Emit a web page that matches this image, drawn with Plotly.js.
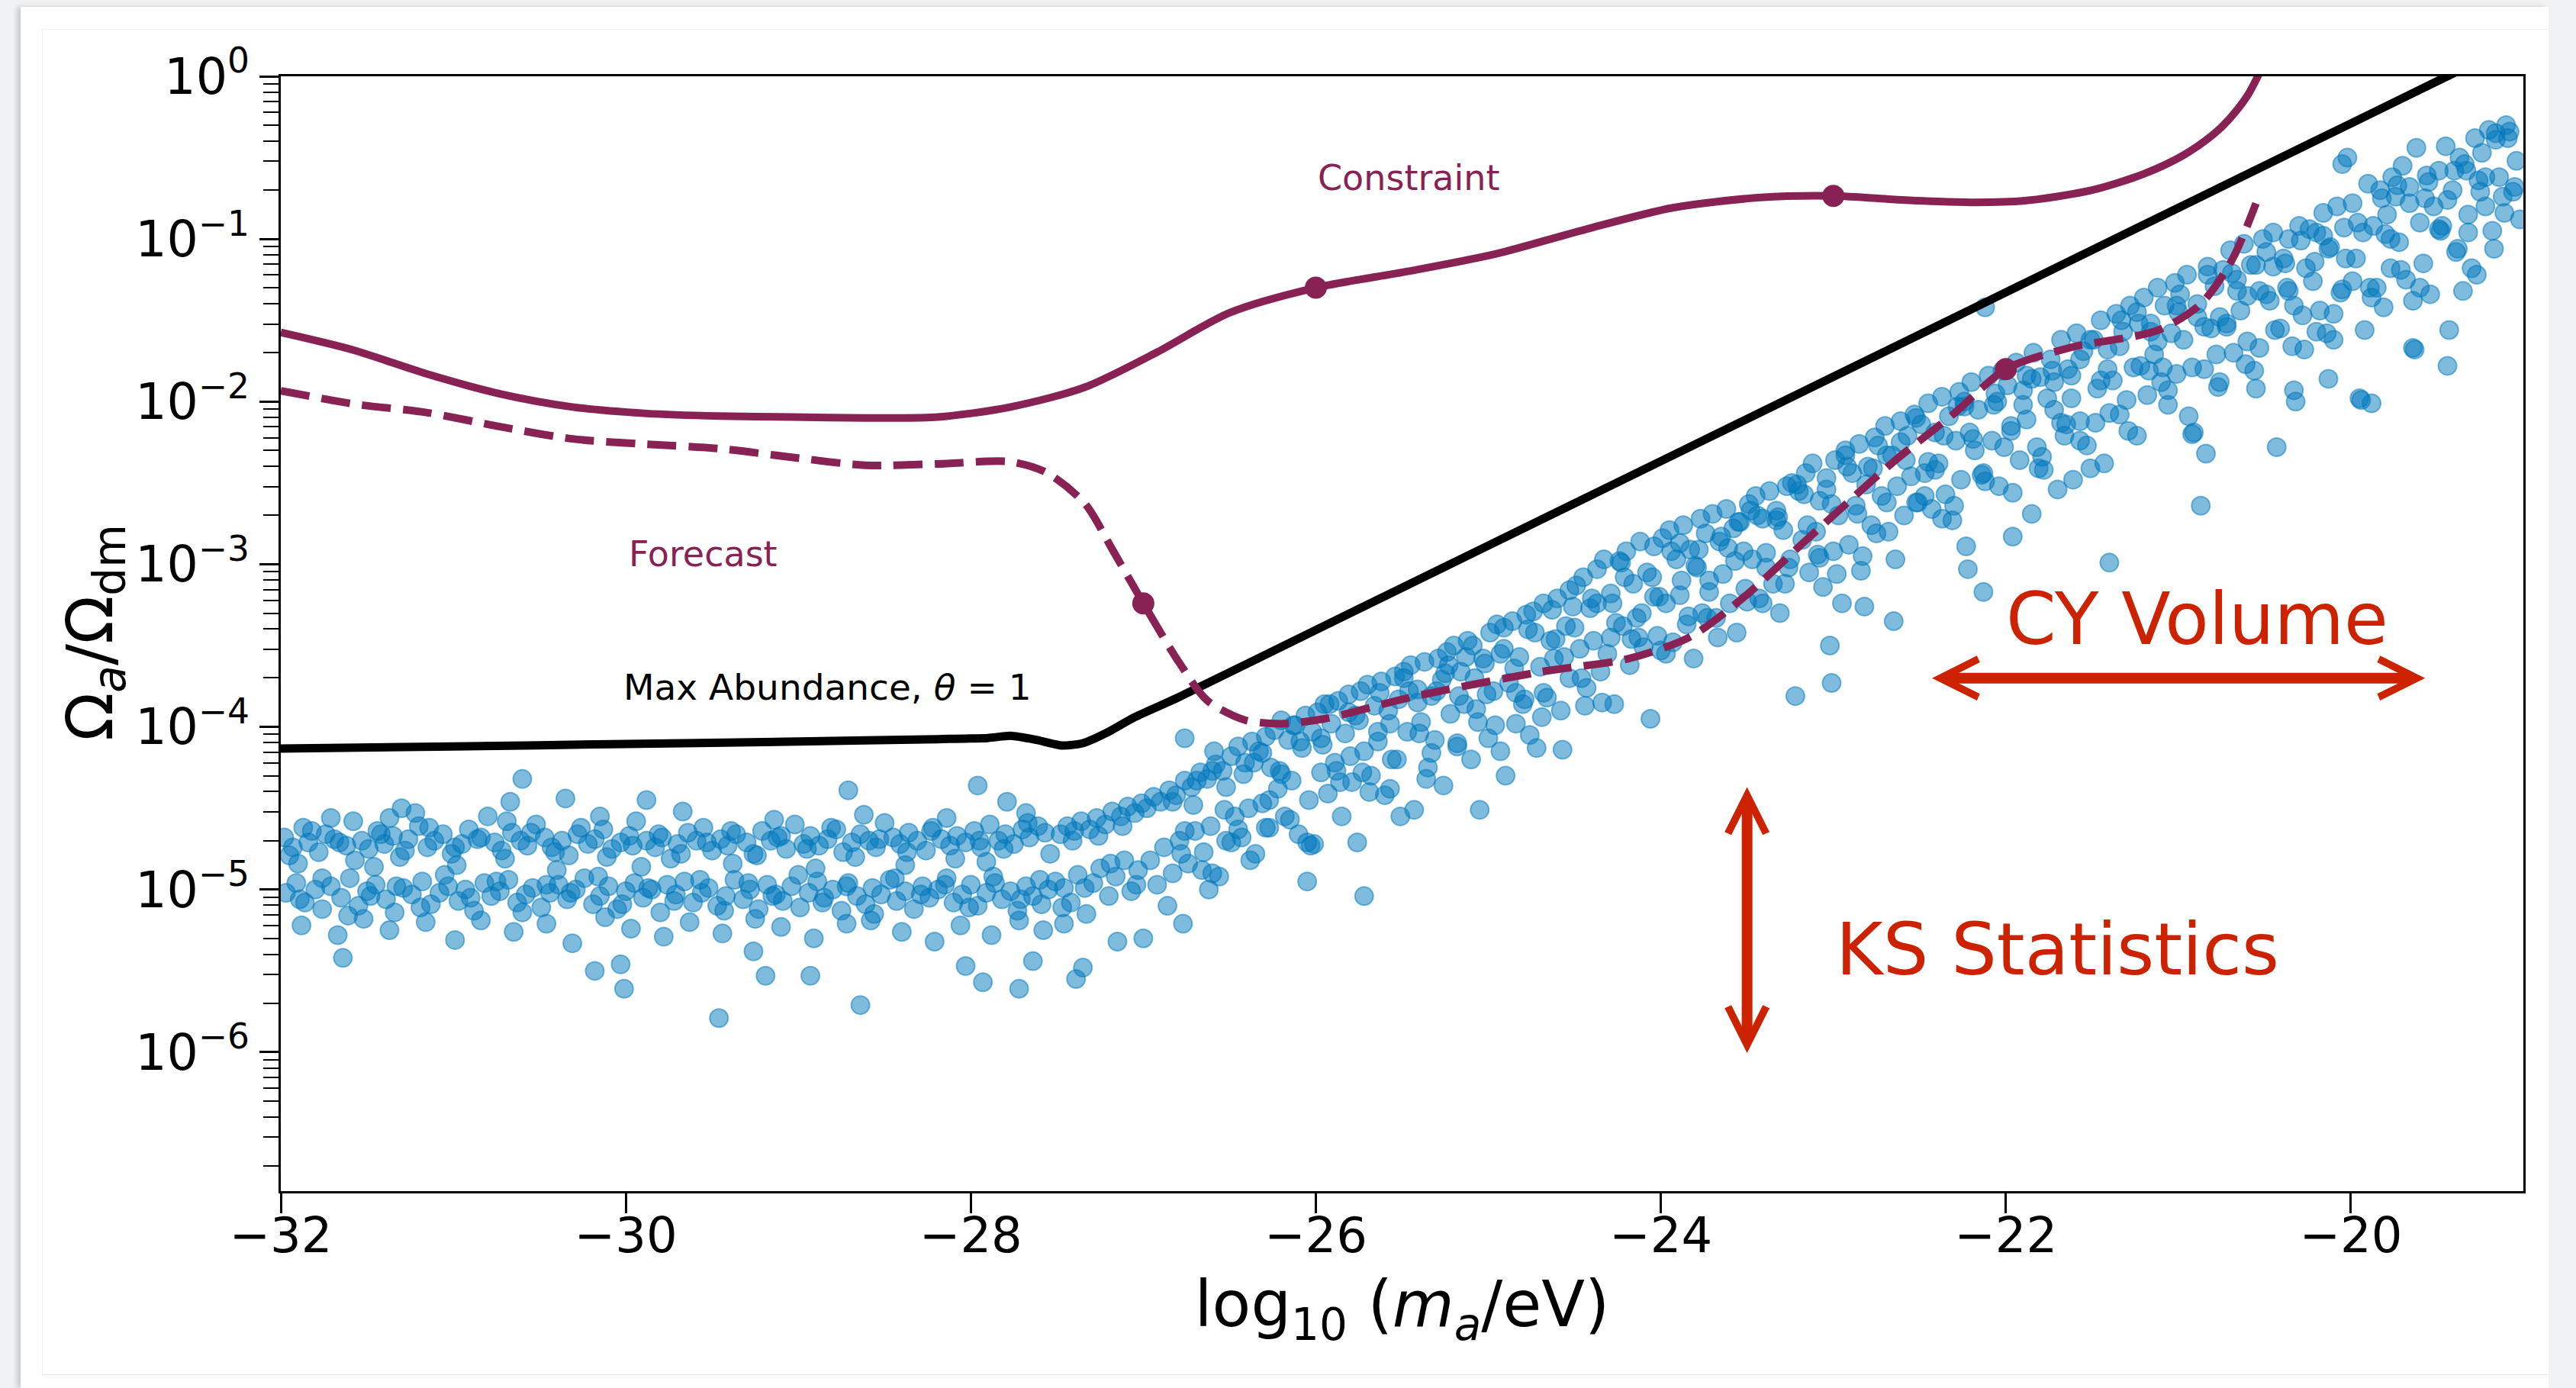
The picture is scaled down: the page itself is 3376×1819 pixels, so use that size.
<!DOCTYPE html>
<html><head><meta charset="utf-8">
<script src="https://cdn.plot.ly/plotly-3.0.1.min.js"></script>
<style>
html,body{margin:0;padding:0;width:3376px;height:1819px;overflow:hidden;background:#f1f2f4;}
#card{position:absolute;left:27px;top:9px;width:3313px;height:1810px;background:#fff;box-shadow:-5px 0 6px rgba(0,0,0,0.16);}
#inner{position:absolute;left:55px;top:38px;width:3285px;height:1762px;border-left:1px solid #f0f0f0;border-top:1px solid #f0f0f0;border-bottom:1px solid #e8e8e8;}
#chart{position:absolute;left:0;top:0;width:3376px;height:1819px;}
</style></head><body>
<div id="card"></div><div id="inner"></div><div id="chart"></div>
<script>
// ---------- axes ----------
const xTickVals = [-32, -30, -28, -26, -24, -22, -20];
const yTickVals = [1e-6, 1e-5, 1e-4, 1e-3, 1e-2, 1e-1, 1];
const yTickText = ['10<sup>−6</sup>', '10<sup>−5</sup>', '10<sup>−4</sup>', '10<sup>−3</sup>', '10<sup>−2</sup>', '10<sup>−1</sup>', '10<sup>0</sup>'];

// ---------- curves (x = log10 m_a, values = log10 Omega_a/Omega_dm) ----------
const constraintX = [-32, -31.58, -31.15, -30.73, -30.31, -29.88, -29.46, -29.04, -28.61, -28.19, -27.77, -27.34, -26.92, -26.50, -26.0, -25.46, -24.95, -24.44, -23.93, -23.42, -23.0, -22.6, -22.2, -21.89, -21.5, -21.2, -20.97, -20.8, -20.71, -20.6, -20.53];
const constraintLogY = [-1.575, -1.683, -1.831, -1.952, -2.033, -2.073, -2.089, -2.095, -2.10, -2.095, -2.033, -1.912, -1.696, -1.454, -1.30, -1.198, -1.09, -0.942, -0.808, -0.745, -0.735, -0.76, -0.775, -0.765, -0.70, -0.60, -0.485, -0.36, -0.269, -0.12, 0.02];
const constraintMarkX = [-26, -23];
const constraintMarkLogY = [-1.30, -0.735];

const forecastX = [-32, -31.58, -31.15, -30.73, -30.31, -29.88, -29.46, -29.04, -28.61, -28.19, -27.77, -27.56, -27.34, -27.18, -27.0, -26.79, -26.63, -26.41, -26.2, -25.95, -25.46, -24.70, -24.19, -23.83, -23.52, -23.16, -22.65, -22.30, -22.0, -21.63, -21.12, -20.87, -20.69, -20.55];
const forecastLogY = [-1.933, -2.014, -2.068, -2.154, -2.229, -2.262, -2.289, -2.342, -2.391, -2.383, -2.37, -2.437, -2.625, -2.908, -3.24, -3.608, -3.837, -3.958, -3.98, -3.95, -3.82, -3.662, -3.581, -3.446, -3.204, -2.854, -2.369, -2.073, -1.80, -1.669, -1.562, -1.40, -1.131, -0.781];
const forecastMarkX = [-27, -22];
const forecastMarkLogY = [-3.24, -1.80];

const maxAbundX = [-32, -31, -30, -29, -28.19, -27.9, -27.77, -27.62, -27.47, -27.35, -27.22, -27.05, -26.8, -26.0, -24.0, -22.0, -20.0, -19.0];
const maxAbundLogY = [-4.133, -4.12, -4.105, -4.09, -4.075, -4.068, -4.055, -4.08, -4.114, -4.10, -4.04, -3.94, -3.82, -3.404, -2.366, -1.328, -0.290, 0.229];

// ---------- scatter samples [log10 m_a, log10 Omega] ----------
const flatUpper = [[-31.98,-4.68],[-31.93,-4.74],[-31.87,-4.62],[-31.84,-4.71],[-31.78,-4.77],[-31.74,-4.66],[-31.69,-4.69],[-31.62,-4.73],[-31.58,-4.58],[-31.53,-4.70],[-31.49,-4.75],[-31.44,-4.64],[-31.40,-4.72],[-31.35,-4.67],[-31.31,-4.80],[-31.26,-4.69],[-31.20,-4.61],[-31.15,-4.74],[-31.11,-4.70],[-31.06,-4.66],[-31.01,-4.78],[-30.95,-4.72],[-30.91,-4.63],[-30.86,-4.69],[-30.80,-4.55],[-30.76,-4.71],[-30.72,-4.76],[-30.66,-4.65],[-30.61,-4.70],[-30.57,-4.73],[-30.52,-4.60],[-30.47,-4.68],[-30.43,-4.74],[-30.37,-4.70],[-30.33,-4.79],[-30.28,-4.66],[-30.22,-4.72],[-30.18,-4.69],[-30.13,-4.63],[-30.08,-4.75],[-30.03,-4.71],[-29.98,-4.67],[-29.94,-4.58],[-29.88,-4.70],[-29.83,-4.74],[-29.79,-4.68],[-29.74,-4.81],[-29.70,-4.72],[-29.64,-4.65],[-29.59,-4.70],[-29.55,-4.62],[-29.50,-4.76],[-29.45,-4.69],[-29.41,-4.73],[-29.36,-4.66],[-29.30,-4.71],[-29.26,-4.78],[-29.21,-4.64],[-29.16,-4.70],[-29.12,-4.68],[-29.07,-4.75],[-29.02,-4.60],[-28.97,-4.72],[-28.93,-4.67],[-28.88,-4.73],[-28.83,-4.69],[-28.78,-4.63],[-28.74,-4.77],[-28.69,-4.71],[-28.64,-4.66],[-28.59,-4.70],[-28.55,-4.74],[-28.50,-4.59],[-28.45,-4.68],[-28.41,-4.72],[-28.36,-4.65],[-28.31,-4.70],[-28.26,-4.76],[-28.22,-4.62],[-28.17,-4.69],[-28.12,-4.73],[-28.08,-4.67],[-28.03,-4.71],[-27.98,-4.64],[-27.94,-4.74],[-27.89,-4.60],[-27.84,-4.70],[-27.80,-4.66],[-27.75,-4.72],[-27.70,-4.63],[-27.66,-4.68],[-27.61,-4.61],[-27.57,-4.65]];
const flatUpperEdge = [[-31.90,-4.84],[-31.71,-4.56],[-31.46,-4.86],[-31.22,-4.53],[-30.98,-4.85],[-30.69,-4.58],[-30.40,-4.88],[-30.15,-4.55],[-29.91,-4.86],[-29.67,-4.52],[-29.38,-4.84],[-29.14,-4.57],[-28.90,-4.87],[-28.62,-4.54],[-28.38,-4.85],[-28.14,-4.56],[-27.91,-4.83],[-27.68,-4.53]];
const flatLower = [[-31.97,-5.02],[-31.91,-4.96],[-31.86,-5.08],[-31.80,-5.00],[-31.76,-5.12],[-31.71,-4.98],[-31.65,-5.05],[-31.60,-4.93],[-31.55,-5.10],[-31.50,-5.01],[-31.45,-4.97],[-31.39,-5.06],[-31.34,-5.14],[-31.29,-4.99],[-31.24,-5.03],[-31.18,-4.95],[-31.13,-5.09],[-31.08,-5.02],[-31.03,-4.98],[-30.97,-5.07],[-30.93,-5.00],[-30.88,-5.13],[-30.82,-4.96],[-30.78,-5.04],[-30.73,-5.01],[-30.68,-4.94],[-30.63,-5.08],[-30.58,-5.03],[-30.54,-4.99],[-30.49,-5.11],[-30.44,-5.02],[-30.39,-4.97],[-30.34,-5.06],[-30.29,-5.00],[-30.24,-4.93],[-30.19,-5.09],[-30.15,-5.04],[-30.10,-4.98],[-30.05,-5.12],[-30.00,-5.01],[-29.95,-4.96],[-29.90,-5.05],[-29.85,-5.00],[-29.80,-5.14],[-29.76,-4.97],[-29.71,-5.03],[-29.66,-4.95],[-29.61,-5.08],[-29.56,-5.02],[-29.52,-4.99],[-29.47,-5.10],[-29.42,-5.04],[-29.37,-4.94],[-29.32,-5.06],[-29.28,-5.00],[-29.23,-5.12],[-29.18,-4.97],[-29.13,-5.03],[-29.09,-5.07],[-29.04,-4.98],[-28.99,-5.11],[-28.94,-5.02],[-28.89,-4.95],[-28.85,-5.05],[-28.80,-5.00],[-28.75,-5.13],[-28.71,-4.96],[-28.66,-5.04],[-28.61,-5.09],[-28.57,-4.99],[-28.52,-5.03],[-28.47,-4.94],[-28.43,-5.07],[-28.38,-5.01],[-28.33,-5.12],[-28.28,-4.98],[-28.24,-5.05],[-28.19,-5.00],[-28.14,-4.93],[-28.10,-5.08],[-28.05,-5.03],[-28.00,-4.97],[-27.96,-5.10],[-27.91,-5.02],[-27.86,-4.96],[-27.82,-5.06],[-27.77,-5.01],[-27.73,-5.13],[-27.68,-4.98],[-27.64,-5.04],[-27.59,-5.09],[-27.55,-5.00],[-27.51,-4.95]];
const flatDeep = [[-31.88,-5.22],[-31.67,-5.28],[-31.52,-5.18],[-31.37,-5.25],[-31.16,-5.20],[-30.99,-5.31],[-30.84,-5.19],[-30.65,-5.26],[-30.46,-5.21],[-30.31,-5.33],[-30.12,-5.17],[-29.97,-5.24],[-29.78,-5.29],[-29.63,-5.20],[-29.44,-5.27],[-29.25,-5.18],[-29.10,-5.23],[-28.91,-5.30],[-28.72,-5.21],[-28.58,-5.19],[-28.40,-5.26],[-28.21,-5.32],[-28.06,-5.22],[-27.88,-5.28],[-27.72,-5.19],[-27.58,-5.25],[-27.46,-5.21]];
const flatFill = [[-31.95,-4.79],[-31.89,-5.06],[-31.82,-4.64],[-31.76,-4.93],[-31.66,-4.71],[-31.61,-5.16],[-31.57,-4.82],[-31.48,-5.04],[-31.42,-4.66],[-31.33,-4.98],[-31.28,-4.76],[-31.19,-5.11],[-31.14,-4.62],[-31.05,-4.91],[-30.99,-4.74],[-30.90,-5.05],[-30.84,-4.68],[-30.75,-4.95],[-30.70,-4.81],[-30.60,-5.14],[-30.55,-4.65],[-30.46,-4.97],[-30.41,-4.77],[-30.32,-5.02],[-30.26,-4.62],[-30.16,-4.92],[-30.11,-4.80],[-30.02,-5.09],[-29.96,-4.73],[-29.87,-4.99],[-29.81,-4.66],[-29.72,-5.07],[-29.68,-4.78],[-29.57,-4.94],[-29.53,-4.71],[-29.43,-5.13],[-29.39,-4.64],[-29.29,-4.96],[-29.24,-4.79],[-29.15,-5.04],[-29.10,-4.67],[-29.00,-4.91],[-28.95,-4.75],[-28.86,-5.08],[-28.81,-4.62],[-28.72,-4.98],[-28.67,-4.80],[-28.56,-5.15],[-28.53,-4.69],[-28.44,-4.93],[-28.37,-4.77],[-28.29,-5.03],[-28.23,-4.64],[-28.15,-4.97],[-28.09,-4.81],[-28.01,-5.11],[-27.95,-4.70],[-27.87,-4.92],[-27.81,-4.75],[-27.71,-5.06],[-27.67,-4.59],[-27.60,-4.94],[-27.54,-4.78],[-27.47,-5.11],[-27.41,-4.70],[-27.34,-4.99],[-27.26,-4.67],[-27.19,-4.84],[-27.12,-4.61],[-27.04,-4.97]];
const flatOutliers = [[-30.60,-4.32],[-30.67,-4.46],[-30.35,-4.44],[-29.88,-4.45],[-28.71,-4.39],[-27.96,-4.36],[-27.79,-4.46],[-31.30,-4.50],[-31.37,-4.56],[-31.64,-5.42],[-30.18,-5.50],[-30.03,-5.46],[-30.01,-5.61],[-29.46,-5.79],[-29.19,-5.53],[-28.93,-5.53],[-28.64,-5.71],[-28.03,-5.47],[-27.93,-5.57],[-27.72,-5.61],[-27.39,-5.55],[-27.64,-5.44],[-29.26,-5.38],[-26.77,-5.21],[-27.00,-5.30],[-26.05,-4.95],[-25.72,-5.04]];
const risingA = [[-27.48,-4.66],[-27.46,-4.99],[-27.44,-4.61],[-27.42,-5.08],[-27.40,-4.64],[-27.38,-4.91],[-27.36,-4.58],[-27.33,-5.15],[-27.31,-4.63],[-27.29,-4.96],[-27.27,-4.56],[-27.25,-4.87],[-27.22,-4.60],[-27.20,-5.04],[-27.18,-4.52],[-27.16,-4.92],[-27.13,-4.55],[-27.11,-4.82],[-27.09,-4.49],[-27.07,-5.01],[-27.05,-4.53],[-27.03,-4.88],[-27.01,-4.47],[-27.15,-5.32],[-27.35,-5.48],
 [-26.98,-4.50],[-26.96,-4.82],[-26.94,-4.43],[-26.92,-4.97],[-26.90,-4.46],[-26.88,-4.74],[-26.85,-4.39],[-26.83,-4.90],[-26.81,-4.42],[-26.79,-4.70],[-26.76,-4.33],[-26.74,-4.84],[-26.72,-4.37],[-26.70,-4.64],[-26.67,-4.28],[-26.65,-4.77],[-26.63,-4.32],[-26.61,-4.61],[-26.58,-4.23],[-26.56,-4.92],[-26.54,-4.27],[-26.52,-4.70],[-26.86,-5.10],[-26.62,-5.00],[-26.76,-4.07],[-26.59,-4.15],
 [-26.49,-4.18],[-26.47,-4.55],[-26.45,-4.12],[-26.43,-4.68],[-26.41,-4.22],[-26.39,-4.50],[-26.37,-4.09],[-26.35,-4.78],[-26.33,-4.15],[-26.31,-4.47],[-26.29,-4.06],[-26.27,-4.62],[-26.26,-4.25],
 [-26.24,-4.02],[-26.22,-4.38],[-26.20,-3.96],[-26.18,-4.55],[-26.16,-4.08],[-26.14,-4.33],[-26.12,-3.99],[-26.10,-4.66],[-26.08,-4.13],[-26.06,-3.93],[-26.04,-4.45],[-26.02,-4.03],[-26.01,-4.72]];
const risingB = [[-25.99,-3.91],[-25.97,-4.28],[-25.95,-3.86],[-25.93,-4.41],[-25.91,-3.98],[-25.89,-4.22],[-25.87,-3.84],[-25.85,-4.55],[-25.83,-4.04],[-25.81,-3.80],[-25.79,-4.34],[-25.77,-3.93],[-25.76,-4.71],
 [-25.74,-3.78],[-25.72,-4.15],[-25.70,-3.74],[-25.68,-4.30],[-25.66,-3.87],[-25.64,-4.09],[-25.62,-3.72],[-25.60,-4.42],[-25.58,-3.90],[-25.56,-4.20],[-25.54,-3.69],[-25.52,-3.83],[-25.51,-4.55],
 [-25.49,-3.66],[-25.47,-4.03],[-25.45,-3.62],[-25.43,-4.51],[-25.41,-3.77],[-25.39,-3.97],[-25.37,-3.60],[-25.35,-4.25],[-25.33,-3.81],[-25.31,-4.08],[-25.29,-3.58],[-25.27,-3.71],[-25.26,-4.36],
 [-25.24,-3.54],[-25.22,-3.92],[-25.20,-3.50],[-25.18,-4.12],[-25.16,-3.66],[-25.14,-3.86],[-25.12,-3.47],[-25.10,-4.20],[-25.08,-3.70],[-25.06,-3.97],[-25.05,-4.51],[-25.03,-3.58],[-25.01,-3.80],
 [-24.99,-3.42],[-24.97,-3.78],[-24.95,-3.37],[-24.93,-4.15],[-24.91,-3.52],[-24.90,-4.30],[-24.88,-3.73],[-24.86,-3.35],[-24.84,-3.98],[-24.82,-3.57],[-24.80,-3.86],[-24.78,-3.31],[-24.76,-4.05],
 [-24.74,-3.29],[-24.72,-4.13],[-24.70,-3.63],[-24.68,-3.24],[-24.66,-3.82],[-24.64,-3.47],[-24.62,-3.58],[-24.60,-3.21],[-24.58,-3.90],[-24.57,-4.14],[-24.55,-3.38],[-24.53,-3.70],[-24.51,-3.26],
 [-24.49,-3.13],[-24.47,-3.52],[-24.45,-3.08],[-24.43,-3.76],[-24.41,-3.27],[-24.39,-3.47],[-24.37,-3.03],[-24.35,-3.66],[-24.33,-2.97],[-24.31,-3.55],[-24.29,-3.18],[-24.27,-3.86],[-24.26,-3.36],
 [-24.24,-2.98],[-24.22,-3.38],[-24.20,-2.92],[-24.18,-3.62],[-24.16,-3.12],[-24.14,-3.33],[-24.12,-2.86],[-24.10,-3.51],[-24.08,-3.05],[-24.06,-3.95],[-24.04,-2.89],[-24.02,-3.44],[-24.01,-3.20]];
const risingC = [[-23.99,-2.84],[-23.97,-3.24],[-23.95,-2.79],[-23.93,-3.48],[-23.91,-2.97],[-23.89,-3.19],[-23.87,-2.76],[-23.85,-3.37],[-23.83,-2.91],[-23.81,-3.58],[-23.79,-3.02],[-23.77,-2.72],[-23.76,-3.30],
 [-23.74,-2.81],[-23.72,-3.10],[-23.70,-2.69],[-23.68,-3.33],[-23.66,-2.86],[-23.64,-3.06],[-23.62,-2.66],[-23.60,-3.24],[-23.58,-2.78],[-23.56,-3.42],[-23.54,-2.74],[-23.52,-2.92],[-23.51,-3.15],
 [-23.49,-2.63],[-23.47,-2.97],[-23.45,-2.58],[-23.43,-3.21],[-23.41,-2.72],[-23.39,-2.93],[-23.37,-2.55],[-23.35,-3.12],[-23.33,-2.67],[-23.31,-3.30],[-23.29,-2.79],[-23.27,-2.52],[-23.26,-3.02],
 [-23.24,-2.50],[-23.22,-3.81],[-23.20,-2.55],[-23.18,-2.85],[-23.16,-2.44],[-23.14,-3.05],[-23.12,-2.38],[-23.10,-2.80],[-23.08,-2.61],[-23.06,-3.14],[-23.04,-2.47],[-23.02,-3.50],[-23.01,-3.73],[-23.00,-2.92],
 [-22.99,-2.36],[-22.97,-2.70],[-22.95,-3.24],[-22.93,-2.30],[-22.91,-2.88],[-22.89,-2.44],[-22.87,-2.64],[-22.85,-2.26],[-22.83,-2.95],[-22.82,-3.26],[-22.80,-2.40],[-22.78,-2.76],[-22.76,-2.22],
 [-22.74,-2.27],[-22.72,-2.58],[-22.70,-2.15],[-22.68,-2.80],[-22.66,-2.33],[-22.65,-3.35],[-22.63,-2.52],[-22.61,-2.12],[-22.59,-2.70],[-22.57,-2.21],[-22.55,-2.46],[-22.53,-2.08],[-22.51,-2.62],
 [-22.49,-2.14],[-22.47,-2.44],[-22.45,-2.01],[-22.43,-2.66],[-22.41,-2.19],[-22.39,-2.38],[-22.37,-1.97],[-22.35,-2.57],[-22.33,-2.09],[-22.31,-2.73],[-22.29,-2.24],[-22.27,-1.94],[-22.26,-2.48],
 [-22.24,-2.00],[-22.23,-2.89],[-22.22,-3.03],[-22.20,-1.88],[-22.18,-2.30],[-22.16,-2.05],[-22.14,-2.45],[-22.13,-3.17],[-22.12,-1.42],[-22.10,-1.84],[-22.08,-2.24],[-22.06,-1.95],[-22.04,-2.52],[-22.02,-1.81]];
const risingD = [[-21.99,-1.90],[-21.97,-2.18],[-21.96,-2.83],[-21.94,-1.76],[-21.92,-2.36],[-21.90,-1.93],[-21.88,-2.11],[-21.85,-2.69],[-21.84,-1.70],[-21.82,-2.28],[-21.80,-1.85],[-21.78,-2.42],[-21.76,-1.98],
 [-21.74,-1.74],[-21.72,-2.05],[-21.70,-2.54],[-21.68,-1.62],[-21.66,-2.21],[-21.64,-1.80],[-21.62,-1.98],[-21.61,-2.48],[-21.59,-1.58],[-21.57,-2.12],[-21.55,-1.69],[-21.53,-2.27],[-21.51,-2.41],
 [-21.49,-1.62],[-21.47,-1.92],[-21.45,-1.50],[-21.43,-2.38],[-21.41,-1.68],[-21.40,-2.99],[-21.38,-1.87],[-21.36,-1.46],[-21.34,-2.08],[-21.32,-1.57],[-21.30,-1.99],[-21.28,-1.41],[-21.26,-1.79],
 [-21.24,-1.45],[-21.22,-1.78],[-21.20,-1.36],[-21.18,-1.96],[-21.16,-1.52],[-21.14,-1.71],[-21.12,-1.30],[-21.10,-1.88],[-21.08,-1.41],[-21.06,-2.02],[-21.04,-1.58],[-21.02,-1.27],[-21.01,-1.83],
 [-20.99,-1.34],[-20.97,-1.62],[-20.95,-1.22],[-20.92,-2.20],[-20.91,-2.19],[-20.89,-1.40],[-20.87,-2.64],[-20.85,-1.80],[-20.84,-2.32],[-20.83,-1.17],[-20.81,-1.55],[-20.79,-1.29],[-20.77,-1.91],[-20.76,-1.48],
 [-20.74,-1.19],[-20.72,-1.52],[-20.70,-1.07],[-20.68,-1.70],[-20.66,-1.25],[-20.64,-1.44],[-20.62,-1.03],[-20.60,-1.63],[-20.58,-1.16],[-20.56,-1.81],[-20.55,-1.92],[-20.53,-1.32],[-20.51,-1.00],
 [-20.49,-1.08],[-20.47,-1.38],[-20.45,-0.96],[-20.43,-2.28],[-20.41,-1.55],[-20.39,-1.12],[-20.37,-1.30],[-20.36,-1.00],[-20.34,-1.66],[-20.33,-1.93],[-20.32,-2.00],[-20.30,-0.92],[-20.28,-1.47],[-20.26,-1.18],
 [-20.24,-0.94],[-20.22,-1.26],[-20.20,-0.96],[-20.18,-1.44],[-20.16,-0.84],[-20.14,-1.58],[-20.13,-1.86],[-20.12,-1.05],[-20.10,-1.62],[-20.08,-0.80],[-20.06,-1.33],[-20.05,-0.54],[-20.03,-1.12],[-20.02,-0.50]];
const risingE = [[-19.99,-0.78],[-19.97,-1.12],[-19.95,-1.98],[-19.94,-1.99],[-19.92,-1.56],[-19.90,-0.66],[-19.88,-2.01],[-19.87,-0.92],[-19.85,-1.30],[-19.83,-0.70],[-19.81,-1.42],[-19.79,-0.85],[-19.77,-1.18],[-19.76,-0.62],
 [-19.74,-0.74],[-19.72,-1.02],[-19.70,-0.55],[-19.68,-1.25],[-19.66,-0.68],[-19.64,-1.67],[-19.63,-1.68],[-19.62,-0.44],[-19.60,-0.90],[-19.58,-1.15],[-19.56,-0.61],[-19.54,-1.34],[-19.52,-0.80],
 [-19.49,-0.58],[-19.47,-0.92],[-19.45,-0.43],[-19.44,-1.78],[-19.43,-1.56],[-19.41,-0.70],[-19.39,-1.08],[-19.37,-0.50],[-19.35,-1.32],[-19.34,-0.54],[-19.32,-0.85],[-19.30,-1.18],[-19.28,-0.38],[-19.26,-0.64],
 [-19.24,-0.47],[-19.22,-0.80],[-19.20,-0.33],[-19.18,-0.95],[-19.16,-0.39],[-19.14,-0.62],[-19.12,-0.74],[-19.10,-0.30],[-19.08,-0.34],[-19.06,-0.71],[-19.04,-0.52],[-19.02,-0.88]];
const risingFill1 = [[-26.83,-4.46],[-26.78,-4.78],[-26.71,-4.48],[-26.66,-4.88],[-26.60,-4.27],[-26.53,-4.51],[-26.49,-4.71],[-26.42,-4.29],[-26.38,-4.82],[-26.31,-4.16],[-26.27,-4.45],[-26.21,-4.27],[-26.15,-4.57],[-26.09,-4.09],[-26.03,-4.73],[-25.96,-4.11],[-25.92,-3.86],[-25.86,-4.34],[-25.80,-4.18],[-25.75,-3.96],[-25.69,-4.40],[-25.63,-3.79],[-25.57,-3.98],[-25.53,-4.20],[-25.46,-3.78],[-25.40,-4.04],[-25.36,-4.32],[-25.30,-3.78],[-25.23,-3.62],[-25.18,-4.10],[-25.13,-3.57],[-25.07,-3.89],[-25.02,-3.61],[-24.96,-3.99],[-24.91,-3.39],[-24.85,-3.64],[-24.79,-3.83],[-24.73,-3.42],[-24.69,-3.94],[-24.63,-3.28],[-24.56,-3.57],[-24.50,-3.39],[-24.46,-3.70],[-24.40,-3.21],[-24.34,-3.85],[-24.28,-3.24],[-24.23,-2.99],[-24.17,-3.46],[-24.11,-3.30],[-24.05,-3.08],[-24.00,-3.53],[-23.94,-2.92],[-23.88,-3.10],[-23.84,-3.32],[-23.78,-2.91],[-23.72,-3.17],[-23.67,-3.45],[-23.61,-2.90],[-23.55,-2.74],[-23.50,-3.23],[-23.44,-2.70],[-23.39,-3.02],[-23.33,-2.73],[-23.28,-3.12],[-23.21,-2.51],[-23.15,-2.76],[-23.09,-2.94],[-23.04,-2.54],[-22.98,-3.06],[-22.92,-2.40],[-22.86,-2.69],[-22.81,-2.51],[-22.75,-2.81],[-22.69,-2.33],[-22.64,-2.97],[-22.58,-2.36],[-22.52,-2.10],[-22.47,-2.58],[-22.41,-2.42],[-22.36,-2.21],[-22.30,-2.64],[-22.24,-2.03],[-22.19,-2.23],[-22.13,-2.44],[-22.07,-2.02],[-22.01,-2.28]];
const risingFill2 = [[-21.96,-2.56],[-21.90,-2.02],[-21.85,-1.86],[-21.79,-2.34],[-21.73,-1.81],[-21.68,-2.13],[-21.62,-1.84],[-21.57,-2.24],[-21.51,-1.62],[-21.45,-1.87],[-21.40,-2.07],[-21.34,-1.66],[-21.29,-2.18],[-21.23,-1.52],[-21.17,-1.81],[-21.12,-1.63],[-21.06,-1.93],[-21.00,-1.45],[-20.94,-2.09],[-20.89,-1.48],[-20.83,-1.22],[-20.78,-1.71],[-20.72,-1.54],[-20.66,-1.32],[-20.61,-1.77],[-20.55,-1.16],[-20.49,-1.34],[-20.44,-1.56],[-20.38,-1.15],[-20.33,-1.41],[-20.27,-1.68],[-20.21,-1.14],[-20.16,-0.98],[-20.10,-1.46],[-20.04,-0.93],[-19.99,-1.26],[-19.93,-0.96],[-19.88,-1.36],[-19.82,-0.75],[-19.77,-1.00],[-19.71,-1.19],[-19.66,-0.78],[-19.60,-1.30],[-19.55,-0.65],[-19.49,-0.94],[-19.44,-0.76],[-19.38,-1.06],[-19.33,-0.58],[-19.27,-1.22],[-19.22,-0.62],[-19.16,-0.35],[-19.11,-0.84],[-19.05,-0.68]];
const risingFill3 = [[-26.76,-4.64],[-26.69,-4.33],[-26.60,-4.90],[-26.52,-4.37],[-26.45,-4.63],[-26.36,-4.22],[-26.29,-4.62],[-26.20,-4.29],[-26.13,-3.99],[-26.05,-4.71],[-25.97,-4.07],[-25.88,-4.27],[-25.81,-3.91],[-25.73,-4.28],[-25.64,-4.03],[-25.57,-4.38],[-25.49,-3.70],[-25.41,-3.85],[-25.33,-4.16],[-25.25,-3.67],[-25.17,-3.81],[-25.09,-3.50],[-25.00,-4.07],[-24.93,-3.55],[-24.84,-3.79],[-24.77,-3.40],[-24.68,-3.79],[-24.61,-3.46],[-24.53,-3.16],[-24.44,-3.87],[-24.37,-3.24],[-24.29,-3.45],[-24.21,-3.08],[-24.13,-3.45],[-24.04,-3.20],[-23.97,-3.55],[-23.89,-2.87],[-23.80,-3.01],[-23.73,-3.33],[-23.65,-2.83],[-23.57,-2.98],[-23.48,-2.67],[-23.41,-3.24],[-23.32,-2.71],[-23.25,-2.97],[-23.17,-2.57],[-23.08,-2.96],[-23.01,-2.63],[-22.93,-2.33],[-22.84,-3.04],[-22.77,-2.41],[-22.69,-2.62],[-22.61,-2.25],[-22.52,-2.62],[-22.45,-2.37],[-22.37,-2.72],[-22.28,-2.03],[-22.21,-2.19],[-22.12,-2.49],[-22.05,-2.00],[-21.97,-2.15],[-21.88,-1.84],[-21.81,-2.41],[-21.72,-1.88],[-21.65,-2.14],[-21.57,-1.74],[-21.48,-2.13],[-21.41,-1.80],[-21.33,-1.50],[-21.24,-2.21],[-21.16,-1.57],[-21.09,-1.79],[-21.01,-1.41],[-20.92,-1.79],[-20.85,-1.54],[-20.76,-1.88],[-20.69,-1.21],[-20.60,-1.35],[-20.53,-1.67],[-20.45,-1.17],[-20.36,-1.32],[-20.29,-1.01],[-20.20,-1.57],[-20.13,-1.06],[-20.05,-1.31],[-19.96,-0.90],[-19.89,-1.30],[-19.80,-0.97],[-19.73,-0.67],[-19.64,-1.38],[-19.57,-0.75],[-19.48,-0.95],[-19.40,-0.58],[-19.32,-0.96],[-19.25,-0.71],[-19.17,-1.06],[-19.09,-0.38]];

// ---------- helpers ----------
const pow10 = a => a.map(v => Math.pow(10, v));
const allPts = [].concat(flatUpper, flatUpperEdge, flatLower, flatDeep, flatFill, flatOutliers,
  risingA, risingB, risingC, risingD, risingE, risingFill1, risingFill2, risingFill3);
const minorVals = [];
for (let e = -7; e <= -1; e++) for (let d = 2; d <= 9; d++) minorVals.push(d * Math.pow(10, e));

const PURPLE = '#882255', BLUE = 'rgba(0,119,187,0.5)', RED = '#CC2200';
const FONT = 'DejaVu Sans, Verdana, sans-serif';

const traces = [
  {type: 'scatter', mode: 'markers', x: allPts.map(p => p[0]), y: pow10(allPts.map(p => p[1])),
   marker: {size: 24, color: BLUE, line: {color: BLUE, width: 2}}, hoverinfo: 'skip'},
  {type: 'scatter', mode: 'lines', x: maxAbundX, y: pow10(maxAbundLogY),
   line: {color: '#000', width: 11, shape: 'spline', smoothing: 0.6}},
  {type: 'scatter', mode: 'lines', x: constraintX, y: pow10(constraintLogY),
   line: {color: PURPLE, width: 10, shape: 'spline', smoothing: 0.8}},
  {type: 'scatter', mode: 'lines', x: forecastX, y: pow10(forecastLogY),
   line: {color: PURPLE, width: 10, dash: '38px,16px', shape: 'spline', smoothing: 0.8}},
  {type: 'scatter', mode: 'markers', x: constraintMarkX.concat(forecastMarkX), y: pow10(constraintMarkLogY.concat(forecastMarkLogY)),
   marker: {size: 29, color: PURPLE}}
];

const arrowBase = {text: ' ', font: {size: 1}, showarrow: true, arrowside: 'end+start', arrowcolor: RED,
  arrowwidth: 14, arrowhead: 5, startarrowhead: 5, arrowsize: 0.7, startarrowsize: 0.7,
  standoff: 0, startstandoff: 0, borderpad: 0, xref: 'x', yref: 'y', axref: 'x', ayref: 'y'};

const layout = {
  width: 3376, height: 1819,
  paper_bgcolor: 'rgba(0,0,0,0)', plot_bgcolor: '#ffffff',
  margin: {l: 368, r: 69, t: 100, b: 258, pad: 0},
  font: {family: FONT, color: '#000'},
  showlegend: false,
  xaxis: {
    range: [-32, -19], tickmode: 'array', tickvals: xTickVals,
    ticks: 'outside', ticklen: 26, tickwidth: 3, tickcolor: '#000', ticklabelstandoff: -26,
    showline: true, linewidth: 3, linecolor: '#000', mirror: true,
    showgrid: false, zeroline: false, tickfont: {size: 64, family: FONT},
    title: {text: 'log<sub>10</sub> (<i>m<sub>a</sub></i>/eV)', font: {size: 83, family: FONT}, standoff: 26}
  },
  yaxis: {
    type: 'log', range: [-6.854, 0], tickmode: 'array', tickvals: yTickVals, ticktext: yTickText,
    ticks: 'outside', ticklen: 25, tickwidth: 3, tickcolor: '#000',
    minor: {tickmode: 'array', tickvals: minorVals, ticks: 'outside', ticklen: 20, tickwidth: 2, tickcolor: '#000', showgrid: false},
    showline: true, linewidth: 3, linecolor: '#000', mirror: true,
    showgrid: false, zeroline: false, tickfont: {size: 65, family: FONT}
  },
  annotations: [
    {x: -0.083, y: 0.501, xref: 'paper', yref: 'paper', xanchor: 'center', yanchor: 'middle', textangle: -90,
     text: 'Ω<sub><i>a</i></sub>/Ω<sub>dm</sub>', showarrow: false, font: {size: 83, color: '#000', family: FONT}},
    {x: -25.46, y: -0.624, xref: 'x', yref: 'y', text: 'Constraint', showarrow: false, font: {size: 46, color: PURPLE, family: FONT}},
    {x: -29.55, y: -2.936, xref: 'x', yref: 'y', text: 'Forecast', showarrow: false, font: {size: 46, color: PURPLE, family: FONT}},
    {x: -28.83, y: -3.757, xref: 'x', yref: 'y', text: 'Max Abundance, <i>θ</i> = 1', showarrow: false, font: {size: 47, color: '#000', family: FONT}},
    {x: -20.89, y: -3.34, xref: 'x', yref: 'y', text: 'CY Volume', showarrow: false, font: {size: 94, color: RED, family: FONT}},
    {x: -21.70, y: -5.37, xref: 'x', yref: 'y', text: 'KS Statistics', showarrow: false, font: {size: 94, color: RED, family: FONT}},
    Object.assign({}, arrowBase, {x: -19.57, y: -3.70, ax: -22.43, ay: -3.70}),
    Object.assign({}, arrowBase, {x: -23.50, y: -4.37, ax: -23.50, ay: -6.01})
  ]
};

Plotly.newPlot('chart', traces, layout, {displayModeBar: false, staticPlot: true});
</script></body></html>
